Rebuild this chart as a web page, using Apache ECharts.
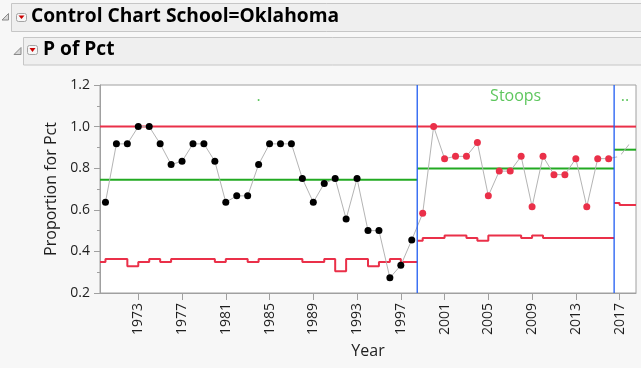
<!DOCTYPE html>
<html><head><meta charset="utf-8">
<script src="https://cdn.jsdelivr.net/npm/echarts@6/dist/echarts.min.js"></script>
<style>html,body{margin:0;padding:0;background:#f7f7f7;}#c{width:641px;height:368px;}</style>
</head><body><div id="c"></div>
<script>
// ---- data ----
const years = [1970,1971,1972,1973,1974,1975,1976,1977,1978,1979,1980,1981,1982,1983,1984,1985,1986,1987,1988,1989,1990,1991,1992,1993,1994,1995,1996,1997,1998,1999,2000,2001,2002,2003,2004,2005,2006,2007,2008,2009,2010,2011,2012,2013,2014,2015,2016,2017,2018];
const pct = [0.636,0.917,0.917,1.0,1.0,0.917,0.818,0.833,0.917,0.917,0.833,0.636,0.667,0.667,0.818,0.917,0.917,0.917,0.75,0.636,0.727,0.75,0.556,0.75,0.5,0.5,0.273,0.333,0.455,0.583,1.0,0.846,0.857,0.857,0.923,0.667,0.786,0.786,0.857,0.615,0.857,0.769,0.769,0.846,0.615,0.846,0.846,0.857,0.923];
const phaseNames = ['.', 'Stoops', '..'];
const phaseFirstYear = [1970, 1999, 2017];
const phaseLastYear = [1998, 2016, 2018];
const phaseCenter = [0.745, 0.798, 0.889];
const phaseUCL = [1.0, 1.0, 1.0];
const lcl1 = [0.349,0.364,0.364,0.329,0.349,0.364,0.349,0.364,0.364,0.364,0.364,0.349,0.364,0.364,0.349,0.364,0.364,0.364,0.364,0.349,0.349,0.364,0.305,0.364,0.364,0.329,0.349,0.364,0.349];
const lcl2 = [0.451,0.465,0.465,0.477,0.477,0.465,0.451,0.477,0.477,0.477,0.465,0.477,0.465,0.465,0.465,0.465,0.465,0.465];
const lcl3 = [0.633,0.623];
const phaseLCL = [lcl1, lcl2, lcl3];
const tickYears = [1973,1977,1981,1985,1989,1993,1997,2001,2005,2009,2013,2017];
const Y_MIN = 0.2, Y_MAX = 1.2;

const RED = '#ea3049', GREEN = '#22aa22', BLUE = '#1f5cf2', FONT = "'Open Sans', 'Noto Sans', sans-serif";
const chart = echarts.init(document.getElementById('c'), null, {renderer: 'canvas'});

const series = [];
// connecting line
series.push({type:'line', data: years.map((y,i)=>[y,pct[i]]), showSymbol:false, symbol:'none',
  lineStyle:{color:'#b4b4b4', width:1}, z:3, silent:true});
// phase boundaries
phaseFirstYear.slice(1).forEach(y=>{
  series.push({type:'line', data:[[y-0.5, Y_MIN],[y-0.5, Y_MAX]], symbol:'none', showSymbol:false,
    lineStyle:{color:BLUE, width:1.3}, itemStyle:{color:BLUE}, z:4, silent:true});
});
phaseFirstYear.forEach((fy, p) => {
  const ly = phaseLastYear[p];
  const x0 = fy - 0.5, x1 = ly + 0.5;
  series.push({type:'line', data:[[x0,phaseUCL[p]],[x1,phaseUCL[p]]], symbol:'none', lineStyle:{color:RED,width:2}, z:2, silent:true});
  series.push({type:'line', data:[[x0,phaseCenter[p]],[x1,phaseCenter[p]]], symbol:'none', lineStyle:{color:GREEN,width:2}, z:2, silent:true});
  const L = phaseLCL[p];
  const d = [[x0, L[0]]];
  L.forEach((v,i)=>d.push([fy+i, v]));
  d.push([x1, L[L.length-1]]);
  series.push({type:'line', step:'start', data:d, symbol:'none', lineStyle:{color:RED,width:2}, z:2, silent:true});
  // phase label
  series.push({type:'scatter', data:[[(x0+x1)/2, 1.145]], symbolSize:0, silent:true, z:6,
    label:{show:true, position:'inside', formatter: phaseNames[p], color:'#34b834', fontSize:16, fontFamily:FONT}});
});
// points
const ptColors = ['#000000', RED, '#ffffff'];
phaseFirstYear.forEach((fy,p)=>{
  const d = [];
  years.forEach((y,i)=>{ if (y>=fy && y<=phaseLastYear[p]) d.push([y,pct[i]]); });
  series.push({type:'scatter', data:d, symbol:'circle', symbolSize: p===2?5:7, itemStyle:{color:ptColors[p], opacity:1}, z:5, silent:true});
});

chart.setOption({
  animation:false,
  backgroundColor:'#f7f7f7',
  grid:{left:100, top:85, width:536, height:208, show:true, backgroundColor:'#ffffff', borderColor:'#a0a0a0', borderWidth:1},
  xAxis:{type:'value', min:1969.5, max:2018.5, splitLine:{show:false},
    axisLine:{show:true, lineStyle:{color:'#a0a0a0'}},
    axisTick:{show:true, customValues:tickYears, length:7, lineStyle:{color:'#a0a0a0'}},
    axisLabel:{customValues:tickYears, formatter:v=>String(v), rotate:90, margin:10, fontSize:14, fontFamily:FONT, color:'#1e1e1e'},
    name:'Year', nameLocation:'middle', nameGap:50, nameTextStyle:{fontSize:16, fontFamily:FONT, color:'#1e1e1e'}},
  yAxis:{type:'value', min:Y_MIN, max:Y_MAX, interval:0.2, splitLine:{show:false},
    axisLine:{show:true, lineStyle:{color:'#a0a0a0'}},
    axisTick:{show:true, length:6, lineStyle:{color:'#a0a0a0'}},
    minorTick:{show:true, splitNumber:2, length:3, lineStyle:{color:'#a0a0a0'}},
    axisLabel:{formatter:v=>v.toFixed(1), margin:10, fontSize:14, fontFamily:FONT, color:'#1e1e1e'},
    name:'Proportion for Pct', nameLocation:'middle', nameGap:37, nameRotate:90,
    nameTextStyle:{fontSize:16, fontFamily:FONT, color:'#1e1e1e'}},
  graphic:[
    {type:'rect', shape:{x:11.5,y:3.5,width:640,height:28}, style:{fill:'#efefef', stroke:'#c6c6c6', lineWidth:1}},
    {type:'polygon', shape:{points:[[8.5,13.5],[8.5,20],[2,20]]}, style:{fill:'#d8d8d8', stroke:'#8a8a8a', lineWidth:1}},
    {type:'rect', shape:{x:16.5,y:13.5,width:10,height:8,r:2}, style:{fill:'#f6f6f6', stroke:'#a4a4a4', lineWidth:1}},
    {type:'polygon', shape:{points:[[18.5,15.5],[24.5,15.5],[21.5,19]]}, style:{fill:'#cc0000'}},
    {type:'text', left:31, top:7.5, style:{text:'Control Chart School=Oklahoma', font:"bold 19.2px 'Open Sans', sans-serif", fill:'#000'}},
    {type:'rect', shape:{x:23.5,y:37.5,width:630,height:27.5}, style:{fill:'#efefef', stroke:'#c6c6c6', lineWidth:1}},
    {type:'polygon', shape:{points:[[21,47.5],[21,54.5],[14,54.5]]}, style:{fill:'#d8d8d8', stroke:'#8a8a8a', lineWidth:1}},
    {type:'rect', shape:{x:27.5,y:45.5,width:10,height:9,r:2}, style:{fill:'#f6f6f6', stroke:'#a4a4a4', lineWidth:1}},
    {type:'polygon', shape:{points:[[29.5,48],[35.5,48],[32.5,52]]}, style:{fill:'#cc0000'}},
    {type:'text', left:43, top:40.5, style:{text:'P of Pct', font:"bold 19.2px 'Open Sans', sans-serif", fill:'#000'}}
  ],
  series: series
});
</script></body></html>
